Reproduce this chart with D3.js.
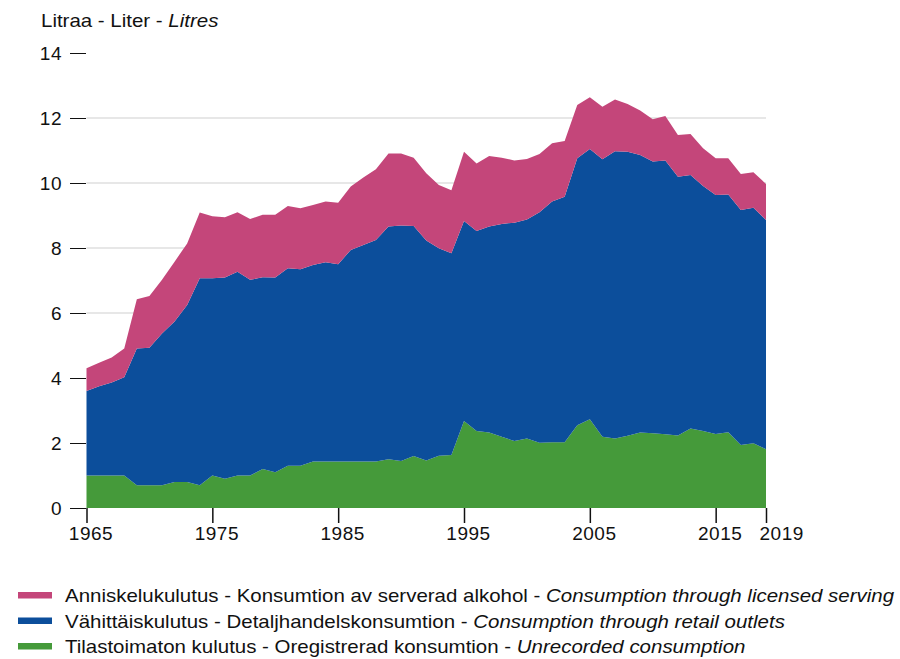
<!DOCTYPE html>
<head>
<meta charset="utf-8">
<style>
    body { margin: 0; background: #fff; }
    svg text { font-family: "Liberation Sans", Arial, Helvetica, sans-serif; fill: #111; }
</style>
<script src="https://d3js.org/d3.v7.min.js"></script>
</head>
<body>
<script>
// Alcohol consumption per capita, litres of pure alcohol, 1965-2019
var years = d3.range(1965, 2020);

var unrecorded = [1.0, 1.0, 1.0, 1.0, 0.7, 0.7, 0.7, 0.8, 0.8, 0.7,
    1.0, 0.9, 1.0, 1.0, 1.2, 1.1, 1.3, 1.3, 1.43, 1.43,
    1.43, 1.43, 1.43, 1.43, 1.5, 1.45, 1.6, 1.46, 1.61, 1.63,
    2.68, 2.37, 2.32, 2.19, 2.06, 2.14, 2.01, 2.02, 2.02, 2.55,
    2.73, 2.19, 2.14, 2.22, 2.32, 2.3, 2.27, 2.23, 2.45, 2.37,
    2.28, 2.33, 1.94, 1.99, 1.81];

var retail = [2.6, 2.75, 2.86, 3.02, 4.21, 4.23, 4.67, 4.94, 5.45, 6.37,
    6.07, 6.19, 6.27, 6.02, 5.9, 5.99, 6.08, 6.05, 6.05, 6.13,
    6.07, 6.51, 6.66, 6.82, 7.16, 7.24, 7.08, 6.77, 6.38, 6.21,
    6.15, 6.15, 6.34, 6.55, 6.72, 6.74, 7.09, 7.41, 7.56, 8.21,
    8.32, 8.54, 8.84, 8.74, 8.54, 8.36, 8.42, 7.96, 7.8, 7.54,
    7.35, 7.32, 7.23, 7.25, 7.05];

var licensed = [0.7, 0.72, 0.77, 0.89, 1.51, 1.59, 1.65, 1.84, 1.89, 2.02,
    1.91, 1.86, 1.83, 1.87, 1.92, 1.93, 1.91, 1.87, 1.84, 1.87,
    1.89, 1.95, 2.08, 2.17, 2.25, 2.22, 2.1, 2.07, 1.95, 1.94,
    2.13, 2.08, 2.17, 2.04, 1.91, 1.86, 1.79, 1.79, 1.71, 1.64,
    1.59, 1.62, 1.59, 1.47, 1.37, 1.3, 1.37, 1.29, 1.26, 1.16,
    1.13, 1.11, 1.11, 1.09, 1.11];

var yTicks = [0, 2, 4, 6, 8, 10, 12, 14];
var xTicks = [1965, 1975, 1985, 1995, 2005, 2015, 2019];

var keys = ["unrecorded", "retail", "licensed"];
var colors = { unrecorded: "#459a3a", retail: "#0c4e9b", licensed: "#c4467a" };

var legendItems = [
    { key: "licensed", plain: "Anniskelukulutus - Konsumtion av serverad alkohol - ", ital: "Consumption through licensed serving" },
    { key: "retail", plain: "Vähittäiskulutus - Detaljhandelskonsumtion - ", ital: "Consumption through retail outlets" },
    { key: "unrecorded", plain: "Tilastoimaton kulutus - Oregistrerad konsumtion - ", ital: "Unrecorded consumption" }
];

var table = years.map(function(yr, i) {
    return { year: yr, unrecorded: unrecorded[i], retail: retail[i], licensed: licensed[i] };
});

var width = 900, height = 659;
var stretch = 1.17; // source text is set wider than Liberation Sans

var svg = d3.select("body").append("svg")
    .attr("width", width)
    .attr("height", height);

var x = d3.scaleLinear()
    .domain([1965, 2019])
    .range([86.5, 766]);

var y = d3.scaleLinear()
    .domain([0, 14])
    .range([508, 53]);

// gridlines (not at the top value)
svg.append("g")
    .selectAll("line")
    .data(yTicks.filter(function(d) { return d > 0 && d < 14; }))
    .enter().append("line")
      .attr("x1", x.range()[0])
      .attr("x2", x.range()[1])
      .attr("y1", function(d) { return y(d); })
      .attr("y2", function(d) { return y(d); })
      .attr("stroke", "#cfcfcf")
      .attr("stroke-width", 1);

var series = d3.stack().keys(keys)(table);

var area = d3.area()
    .x(function(d) { return x(d.data.year); })
    .y0(function(d) { return y(d[0]); })
    .y1(function(d) { return y(d[1]); });

svg.append("g")
    .selectAll("path")
    .data(series)
    .enter().append("path")
      .attr("fill", function(d) { return colors[d.key]; })
      .attr("d", area);

// y axis: ticks on the left, no domain line
var yAxis = svg.append("g")
    .attr("transform", "translate(86,0)")
    .call(d3.axisLeft(y).tickValues(yTicks).tickSize(16).tickPadding(8));
yAxis.select(".domain").remove();
yAxis.selectAll("text")
    .style("font-size", "19px")
    .style("letter-spacing", "0.5px")
    .attr("fill", "#111");
yAxis.selectAll("line").attr("stroke", "#111");

// x axis
var xAxis = svg.append("g")
    .attr("transform", "translate(0,508)")
    .call(d3.axisBottom(x).tickValues(xTicks).tickFormat(d3.format("d")).tickSize(15).tickPadding(4));
xAxis.select(".domain").remove();
xAxis.selectAll("line").attr("stroke", "#111").attr("stroke-width", 1.5);
xAxis.selectAll("text")
    .style("font-size", "19px")
    .style("letter-spacing", "0.5px")
    .attr("fill", "#111")
    .attr("dx", function(d) { return d == 2019 ? "-7" : "4"; })
    .attr("text-anchor", function(d) { return d == 2019 ? "start" : "middle"; });

// unit title
var title = svg.append("text")
    .attr("transform", "translate(41,27) scale(" + stretch + ",1)")
    .style("font-size", "17.5px");
title.append("tspan").text("Litraa - Liter - ");
title.append("tspan").style("font-style", "italic").text("Litres");

// legend
var legend = svg.append("g")
    .selectAll("g")
    .data(legendItems)
    .enter().append("g")
      .attr("transform", function(d, i) { return "translate(0," + (595 + i * 25.5) + ")"; });

legend.append("rect")
    .attr("x", 18)
    .attr("y", -3)
    .attr("width", 34)
    .attr("height", 6.5)
    .attr("fill", function(d) { return colors[d.key]; });

var lt = legend.append("text")
    .attr("transform", "translate(65,7) scale(" + stretch + ",1)")
    .style("font-size", "17.5px");
lt.append("tspan").text(function(d) { return d.plain; });
lt.append("tspan").style("font-style", "italic").text(function(d) { return d.ital; });
</script>
</body>
